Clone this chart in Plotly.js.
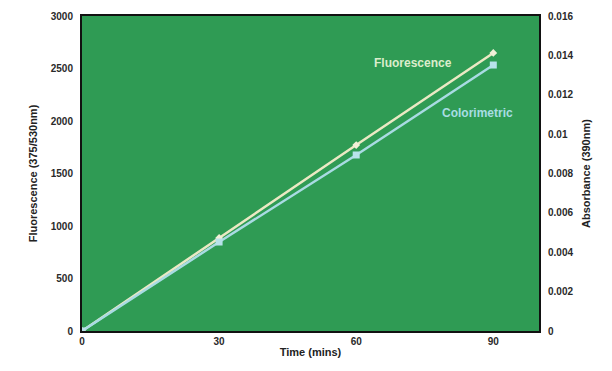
<!DOCTYPE html>
<html>
<head>
<meta charset="utf-8">
<script src="https://cdn.plot.ly/plotly-3.0.1.min.js"></script>
<style>html,body{margin:0;padding:0;background:#fff;}#chart{width:612px;height:371px;}</style>
</head>
<body>
<div id="chart"></div>
<script>
const timeMins = [0, 30, 60, 90];
const fluorescence = [0, 886, 1771, 2648];
const absorbance = [0, 0.00452, 0.00894, 0.01351];
const seriesNames = ["Fluorescence", "Colorimetric"];
const xTicks = [0, 30, 60, 90];
const yLeftTicks = [0, 500, 1000, 1500, 2000, 2500, 3000];
const yRightTicks = [0, 0.002, 0.004, 0.006, 0.008, 0.01, 0.012, 0.014, 0.016];

const fontFam = "Liberation Sans, Arial, sans-serif";
const tickFont = {family: fontFam, size: 10, color: "#2a2a2a", weight: "bold"};
const titleFont = {family: fontFam, size: 11, color: "#222", weight: "bold"};

const traces = [
  {x: timeMins, y: fluorescence, name: seriesNames[0], type: "scatter", mode: "lines+markers",
   line: {color: "#ebe9c4", width: 2.5}, marker: {symbol: "diamond", size: 6, color: "#f2f0d8"}, yaxis: "y"},
  {x: timeMins, y: absorbance, name: seriesNames[1], type: "scatter", mode: "lines+markers",
   line: {color: "#a9dbe3", width: 2.5}, marker: {symbol: "square", size: 7, color: "#b8e2ea"}, yaxis: "y2"}
];

const layout = {
  width: 612, height: 371,
  margin: {l: 82, r: 73, t: 16, b: 40},
  paper_bgcolor: "#ffffff",
  plot_bgcolor: "#2f9b54",
  showlegend: false,
  xaxis: {range: [0, 100], tickvals: xTicks, ticktext: xTicks.map(String), showgrid: false, zeroline: false,
    showline: true, linecolor: "#111", linewidth: 2, mirror: true, ticks: "", tickfont: tickFont,
    title: {text: "<b>Time (mins)</b>", font: titleFont, standoff: 2}},
  yaxis: {range: [0, 3000], tickvals: yLeftTicks, ticktext: yLeftTicks.map(String), showgrid: false, zeroline: false,
    showline: true, linecolor: "#111", linewidth: 2, ticks: "", tickfont: tickFont, ticklabelstandoff: 5,
    title: {text: "<b>Fluorescence (375/530nm)</b>", font: titleFont, standoff: 11}},
  yaxis2: {range: [0, 0.016], overlaying: "y", side: "right", tickvals: yRightTicks,
    ticktext: yRightTicks.map(v => String(v)), showgrid: false, zeroline: false,
    showline: true, linecolor: "#111", linewidth: 2, ticks: "", tickfont: tickFont, ticklabelstandoff: 5,
    title: {text: "<b>Absorbance (390nm)</b>", font: titleFont, standoff: 10}},
  annotations: [
    {x: 72.5, y: 2550, xref: "x", yref: "y", text: "<b>" + seriesNames[0] + "</b>", showarrow: false,
     font: {family: fontFam, size: 12, color: "#dcedcc"}},
    {x: 86.5, y: 2075, xref: "x", yref: "y", text: "<b>" + seriesNames[1] + "</b>", showarrow: false,
     font: {family: fontFam, size: 12, color: "#a9dde3"}}
  ]
};

Plotly.newPlot("chart", traces, layout, {displayModeBar: false, staticPlot: true});
</script>
</body>
</html>
